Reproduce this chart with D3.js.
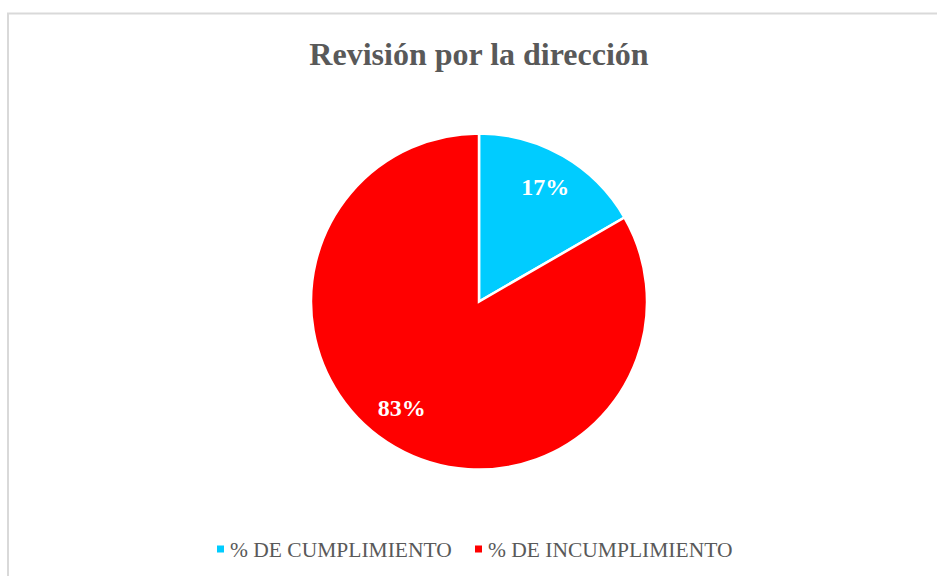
<!DOCTYPE html>
<html>
<head>
<meta charset="utf-8">
<script src="https://cdn.jsdelivr.net/npm/d3@7"></script>
<style>
  body { margin: 0; background: #fff; }
  svg { display: block; }
</style>
</head>
<body>
<div id="chart"></div>
<script>
//Chart data
const categories = ["% DE CUMPLIMIENTO", "% DE INCUMPLIMIENTO"];
const values = [16.67, 83.33];
const labels = ["17%", "83%"];
const colors = ["#00ccff", "#ff0000"];

const width = 937;
const height = 576;
const serif = "'Liberation Serif', 'Times New Roman', serif";

const svg = d3.select("#chart").append("svg")
  .attr("width", width)
  .attr("height", height);

//Chart border (runs off the right/bottom edge)
svg.append("rect")
  .attr("x", 8).attr("y", 13.5)
  .attr("width", 940).attr("height", 580)
  .attr("fill", "none")
  .attr("stroke", "#d9d9d9")
  .attr("stroke-width", 2);

//Title
svg.append("text")
  .attr("x", 479).attr("y", 65)
  .attr("text-anchor", "middle")
  .style("font-family", serif)
  .style("font-weight", "bold")
  .style("font-size", "32px")
  .style("fill", "#595959")
  .text("Revisión por la dirección");

//Pie
const cx = 479, cy = 301.5, radius = 168;
const g = svg.append("g").attr("transform", `translate(${cx},${cy})`);

const pie = d3.pie().sort(null).value((d) => d);
const arcs = pie(values);
const arcGen = d3.arc().innerRadius(0).outerRadius(radius);
const labelArc = d3.arc().innerRadius(radius * 0.79).outerRadius(radius * 0.79);

g.selectAll("path.slice")
  .data(arcs)
  .join("path")
  .attr("class", "slice")
  .attr("d", arcGen)
  .attr("fill", (d, i) => colors[i])
  .attr("stroke", "#fff")
  .attr("stroke-width", 2.5);

//Best-fit style nudge for the big slice label
g.selectAll("text.lbl")
  .data(arcs)
  .join("text")
  .attr("class", "lbl")
  .attr("transform", (d, i) => {
    const [x, y] = labelArc.centroid(d);
    return i === 1 ? `translate(${x - 11},${y - 9})` : `translate(${x},${y})`;
  })
  .attr("text-anchor", "middle")
  .attr("dy", "0.35em")
  .style("font-family", serif)
  .style("font-weight", "bold")
  .style("font-size", "24px")
  .style("fill", "#fff")
  .text((d, i) => labels[i]);

//Legend
const legendX = [217, 475];
const legend = svg.selectAll("g.legend")
  .data(categories)
  .join("g")
  .attr("class", "legend")
  .attr("transform", (d, i) => `translate(${legendX[i]},549)`);

legend.append("rect")
  .attr("x", 0).attr("y", -3.5)
  .attr("width", 7).attr("height", 7)
  .attr("fill", (d, i) => colors[i]);

legend.append("text")
  .attr("x", 13).attr("y", 8)
  .style("font-family", serif)
  .style("font-size", "21.5px")
  .style("fill", "#595959")
  .text((d) => d);
</script>
</body>
</html>
